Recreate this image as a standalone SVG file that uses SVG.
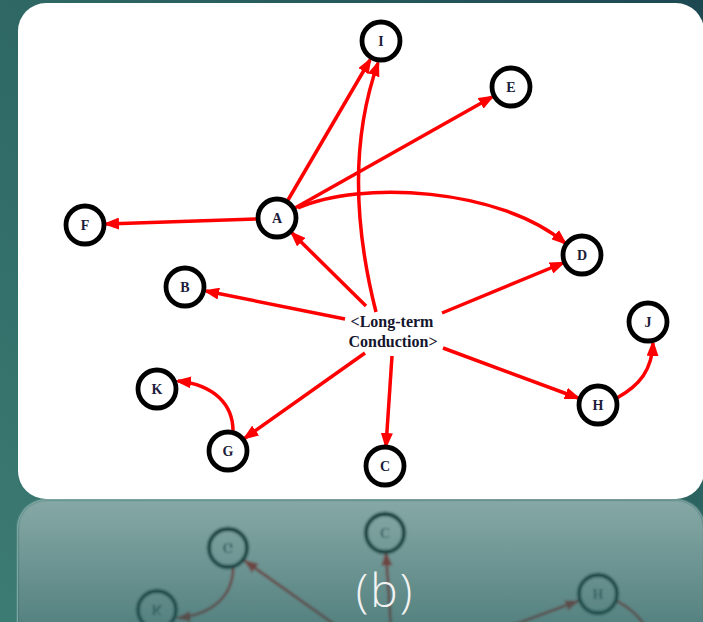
<svg xmlns="http://www.w3.org/2000/svg" xmlns:xlink="http://www.w3.org/1999/xlink" width="703" height="622" viewBox="0 0 703 622">
  <defs>
    <linearGradient id="bg" x1="0" y1="1" x2="1" y2="0">
      <stop offset="0" stop-color="#3c7b73"/>
      <stop offset="0.55" stop-color="#2d6663"/>
      <stop offset="1" stop-color="#1d4852"/>
    </linearGradient>
    <linearGradient id="veil" gradientUnits="userSpaceOnUse" x1="0" y1="500" x2="0" y2="622">
      <stop offset="0" stop-color="#2f6a66" stop-opacity="0.58"/>
      <stop offset="1" stop-color="#2b6361" stop-opacity="0.8"/>
    </linearGradient>
    <marker id="ah" viewBox="0 0 16 12" refX="13" refY="6" markerWidth="16" markerHeight="12" markerUnits="userSpaceOnUse" orient="auto">
      <path d="M0,0 L16,6 L0,12 z" fill="#ff0000"/>
    </marker>
    <filter id="soft" x="-5%" y="-5%" width="110%" height="110%">
      <feGaussianBlur stdDeviation="0.9"/>
    </filter>
    <style>
      .edge { fill: none; stroke: #ff0000; stroke-width: 3.5; marker-end: url(#ah); }
      .node circle { fill: #ffffff; stroke: #000000; stroke-width: 4.8; }
      .node text { font-family: "Liberation Serif", "DejaVu Serif", serif; font-weight: bold; font-size: 14px; fill: #1b1b3a; text-anchor: middle; }
      .hub text { font-family: "Liberation Serif", "DejaVu Serif", serif; font-weight: bold; font-size: 16px; fill: #15152e; text-anchor: middle; }
      .caption { font-family: "Open Sans", "Liberation Sans", sans-serif; font-weight: 300; font-size: 46px; letter-spacing: 2px; fill: #f2f2f2; text-anchor: middle; }
    </style>
  </defs>

  <!-- backdrop -->
  <rect x="0" y="0" width="703" height="622" fill="url(#bg)"/>

  <!-- white card holding the graph -->
  <g id="panel">
    <rect x="18" y="3" width="686" height="496" rx="28" ry="28" fill="#ffffff"/>

    <g id="connectors">
      <!-- edges out of the hub -->
      <line class="edge" x1="366" y1="306" x2="292" y2="233"/>
      <path class="edge" d="M376,312 Q340,170 378,63"/>
      <line class="edge" x1="345" y1="319" x2="206" y2="291"/>
      <line class="edge" x1="442" y1="313" x2="563" y2="263"/>
      <line class="edge" x1="443" y1="348" x2="578" y2="398"/>
      <line class="edge" x1="365" y1="353" x2="245" y2="438"/>
      <line class="edge" x1="392" y1="356" x2="386" y2="446"/>
      <!-- edges out of A -->
      <line class="edge" x1="288" y1="200" x2="370" y2="60"/>
      <line class="edge" x1="295" y1="208" x2="492" y2="97"/>
      <line class="edge" x1="256" y1="219" x2="106" y2="224"/>
      <path class="edge" d="M298,208 C360,180 500,188 565,243"/>
      <!-- G to K, H to J -->
      <path class="edge" d="M233,431 C233,405 215,385 178,381"/>
      <path class="edge" d="M617,398 C640,385 652,370 653,343"/>
    </g>

    <g id="node-hub" class="hub">
      <text x="392" y="327">&lt;Long-term</text>
      <text x="393" y="347">Conduction&gt;</text>
    </g>
    <g id="node-I" class="node"><circle cx="381" cy="41" r="19"/><text x="381" y="46">I</text></g>
    <g id="node-E" class="node"><circle cx="511" cy="87" r="19"/><text x="511" y="92">E</text></g>
    <g id="node-A" class="node"><circle cx="277" cy="218" r="19"/><text x="277" y="223">A</text></g>
    <g id="node-F" class="node"><circle cx="85" cy="225" r="19"/><text x="85" y="230">F</text></g>
    <g id="node-D" class="node"><circle cx="582" cy="255" r="19"/><text x="582" y="260">D</text></g>
    <g id="node-B" class="node"><circle cx="185" cy="287" r="19"/><text x="185" y="292">B</text></g>
    <g id="node-J" class="node"><circle cx="648" cy="322" r="19"/><text x="648" y="327">J</text></g>
    <g id="node-K" class="node"><circle cx="157" cy="389" r="19"/><text x="157" y="394">K</text></g>
    <g id="node-H" class="node"><circle cx="598" cy="405" r="19"/><text x="598" y="410">H</text></g>
    <g id="node-G" class="node"><circle cx="228" cy="451" r="19"/><text x="228" y="456">G</text></g>
    <g id="node-C" class="node"><circle cx="385" cy="466" r="19"/><text x="385" y="471">C</text></g>
  </g>

  <!-- mirrored copy of the card below it, tinted by a teal veil -->
  <g id="reflection">
    <use xlink:href="#panel" href="#panel" transform="translate(0,999) scale(1,-1)" filter="url(#soft)"/>
    <rect x="18" y="500" width="686" height="200" rx="28" ry="28" fill="url(#veil)"/>
  </g>

  <text class="caption" x="385" y="607">(b)</text>
</svg>
